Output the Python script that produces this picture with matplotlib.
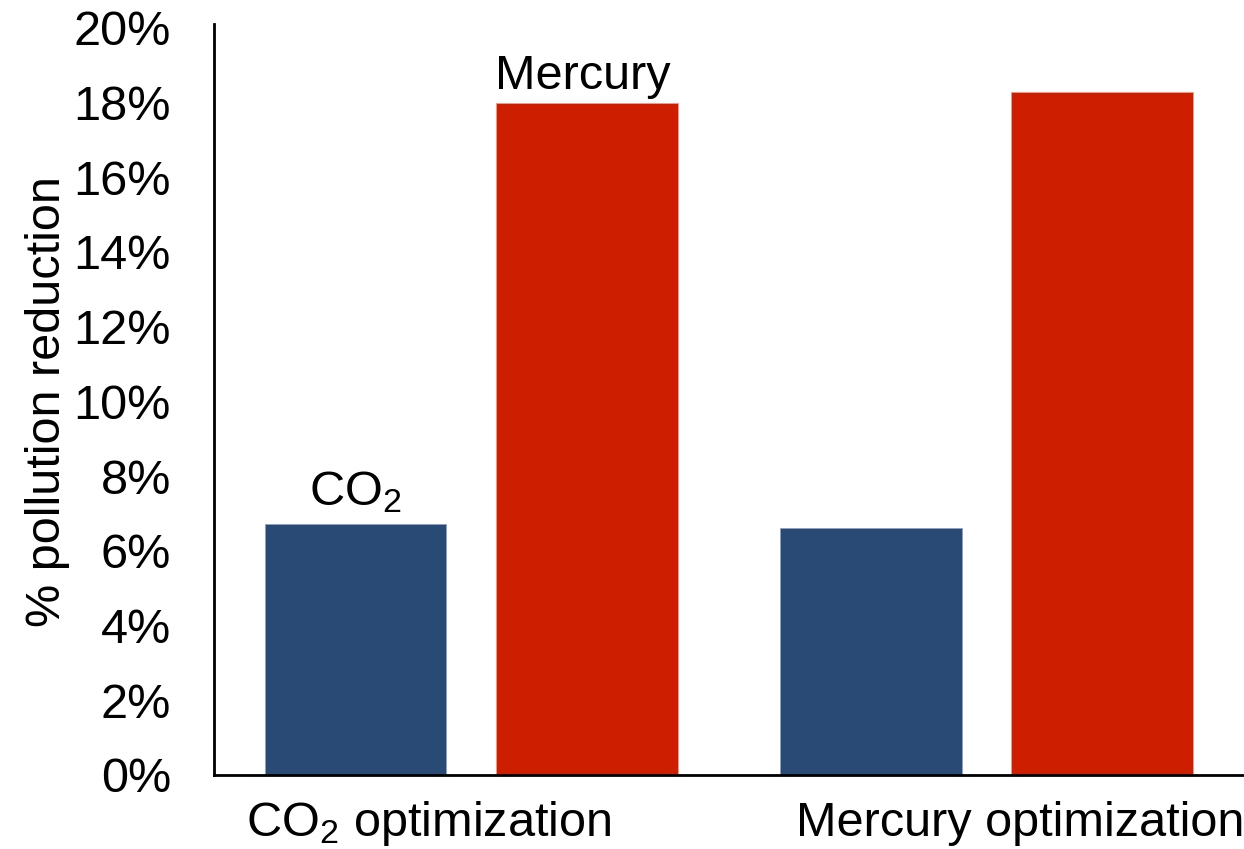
import numpy as np
import matplotlib
matplotlib.use("Agg")
import matplotlib.pyplot as plt
from matplotlib.ticker import FuncFormatter
from matplotlib.transforms import blended_transform_factory

plt.rcParams['font.family'] = ['Liberation Sans', 'DejaVu Sans']
plt.rcParams['mathtext.fontset'] = 'custom'
plt.rcParams['mathtext.rm'] = 'Liberation Sans'
plt.rcParams['mathtext.default'] = 'regular'

# scenario groups and pollution reduction (%) per pollutant
scenarios = ["CO$_2$ optimization", "Mercury optimization"]
co2_reduction = [6.72, 6.61]
mercury_reduction = [18.0, 18.27]
series_names = ["CO$_2$", "Mercury"]

blue = "#284a75"
red = "#cd1e00"

fig = plt.figure(figsize=(12.44, 8.49), dpi=100)
ax = fig.add_axes([0.172, 0.0872, 0.828, 0.880])

x = np.arange(len(scenarios))
width = 0.353
offset = 0.225
b1 = ax.bar(x - offset, co2_reduction, width, color=blue, edgecolor="#8fa2bb", linewidth=0.6)
b2 = ax.bar(x + offset, mercury_reduction, width, color=red, edgecolor="#e8a090", linewidth=0.6)

# series names over the first group only
ax.annotate(series_names[0], xy=(x[0] - offset, co2_reduction[0]), xytext=(0, 9),
            textcoords="offset pixels", ha="center", va="bottom", fontsize=35)
ax.annotate(series_names[1], xy=(x[0] + offset, mercury_reduction[0]), xytext=(-5, 4),
            textcoords="offset pixels", ha="center", va="bottom", fontsize=35)

ax.set_xlim(-0.5, 1.5)
ax.set_ylim(0, 20)
ax.set_yticks(np.arange(0, 21, 2))
ax.yaxis.set_major_formatter(FuncFormatter(lambda v, p: f"{v:.0f}%"))
ax.tick_params(axis="y", length=0, pad=31, labelsize=35)
ax.set_xticks([])

# group labels under the axis
trans = blended_transform_factory(ax.transData, ax.transAxes)
label_x = [-0.083, 1.066]
for lx, name in zip(label_x, scenarios):
    ax.text(lx, -0.065, name, transform=trans, ha="center", va="center", fontsize=35)

ax.set_ylabel("% pollution reduction", fontsize=35)
ax.yaxis.set_label_coords(-0.14, 0.50)

for side in ["top", "right"]:
    ax.spines[side].set_visible(False)
for side in ["left", "bottom"]:
    ax.spines[side].set_linewidth(2)
    ax.spines[side].set_color("black")
ax.spines["left"].set_bounds(0, 20.1)

fig.savefig("out.png", dpi=100)
